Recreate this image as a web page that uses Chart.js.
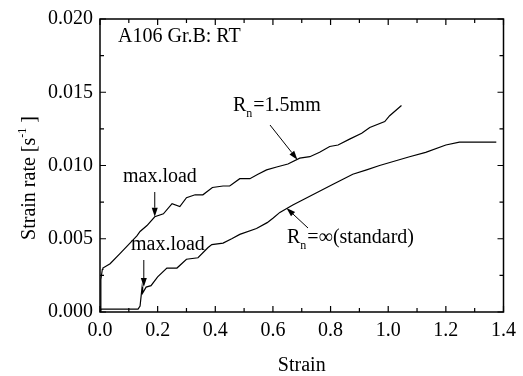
<!DOCTYPE html>
<html>
<head>
<meta charset="utf-8">
<script src="https://cdn.jsdelivr.net/npm/chart.js@4.4.0/dist/chart.umd.min.js"></script>
<style>
html, body { margin: 0; padding: 0; background: #fff; }
#contenedor { width: 523px; height: 376px; }
</style>
</head>
<body>
<div id="contenedor"><canvas id="grafica" width="523" height="376"></canvas></div>
<script>
// Curva R_n = 1.5mm
const deformR15 = [0, 0.003, 0.008, 0.01, 0.035, 0.07, 0.104, 0.128, 0.139, 0.163, 0.19, 0.22, 0.25, 0.277, 0.30, 0.33, 0.357, 0.39, 0.427, 0.45, 0.485, 0.52, 0.548, 0.578, 0.613, 0.652, 0.693, 0.728, 0.762, 0.797, 0.826, 0.866, 0.908, 0.936, 0.988, 1.005, 1.046];
const velR15 = [0, 0.0022, 0.0029, 0.0030, 0.0033, 0.0040, 0.0047, 0.0052, 0.0055, 0.0059, 0.0065, 0.0067, 0.0074, 0.0072, 0.0078, 0.0080, 0.0080, 0.0085, 0.0086, 0.0086, 0.0091, 0.0091, 0.0094, 0.0097, 0.0099, 0.0101, 0.0105, 0.0106, 0.0109, 0.0113, 0.0114, 0.0118, 0.0122, 0.0126, 0.0130, 0.0134, 0.0141];

// Curva R_n = infinito (estandar)
const deformStd = [0, 0.004, 0.013, 0.132, 0.139, 0.146, 0.148, 0.16, 0.177, 0.2, 0.232, 0.267, 0.30, 0.34, 0.375, 0.388, 0.427, 0.457, 0.485, 0.543, 0.58, 0.6, 0.624, 0.669, 0.738, 0.807, 0.877, 0.925, 0.97, 1.074, 1.13, 1.20, 1.247, 1.293, 1.375];
const velStd = [0, 0.0002, 0.0002, 0.0002, 0.0004, 0.0017, 0.0013, 0.0017, 0.0018, 0.0024, 0.0030, 0.0030, 0.0036, 0.0037, 0.0044, 0.0046, 0.0047, 0.0050, 0.0053, 0.0057, 0.0061, 0.0064, 0.0068, 0.0073, 0.0080, 0.0087, 0.0094, 0.0097, 0.0100, 0.0106, 0.0109, 0.0114, 0.0116, 0.0116, 0.0116];

// Ticks de los ejes
const ticksX = [0, 0.2, 0.4, 0.6, 0.8, 1.0, 1.2, 1.4];
const etiquetasX = ['0.0', '0.2', '0.4', '0.6', '0.8', '1.0', '1.2', '1.4'];
const menoresX = [0.1, 0.3, 0.5, 0.7, 0.9, 1.1, 1.3];
const ticksY = [0, 0.005, 0.010, 0.015, 0.020];
const etiquetasY = ['0.000', '0.005', '0.010', '0.015', '0.020'];
const menoresY = [0.0025, 0.0075, 0.0125, 0.0175];

const fuente = 'Liberation Serif, Times New Roman, serif';

function puntos(xs, ys) {
    return xs.map((x, i) => ({ x: x, y: ys[i] }));
}

// dibuja una flecha con punta rellena
function flecha(ctx, x1, y1, x2, y2) {
    const ang = Math.atan2(y2 - y1, x2 - x1);
    const largo = 9, ancho = 3;
    ctx.beginPath();
    ctx.moveTo(x1, y1);
    ctx.lineTo(x2 - largo * Math.cos(ang), y2 - largo * Math.sin(ang));
    ctx.stroke();
    ctx.beginPath();
    ctx.moveTo(x2, y2);
    ctx.lineTo(x2 - largo * Math.cos(ang) + ancho * Math.sin(ang), y2 - largo * Math.sin(ang) - ancho * Math.cos(ang));
    ctx.lineTo(x2 - largo * Math.cos(ang) - ancho * Math.sin(ang), y2 - largo * Math.sin(ang) + ancho * Math.cos(ang));
    ctx.closePath();
    ctx.fill();
}

// texto con subindice "n"
function textoR(ctx, x, y, resto) {
    ctx.font = '20px ' + fuente;
    ctx.fillText('R', x, y);
    let w = ctx.measureText('R').width;
    ctx.font = '12px ' + fuente;
    ctx.fillText('n', x + w, y + 6);
    w += ctx.measureText('n').width + 1;
    ctx.font = '20px ' + fuente;
    ctx.fillText(resto, x + w, y);
}

const marco = {
    id: 'marco',
    afterDatasetsDraw(chart) {
        const ctx = chart.ctx;
        const a = chart.chartArea;
        const sx = chart.scales.x, sy = chart.scales.y;
        ctx.save();
        ctx.strokeStyle = '#000';
        ctx.fillStyle = '#000';
        ctx.lineWidth = 1.5;
        ctx.strokeRect(a.left, a.top, a.right - a.left, a.bottom - a.top);

        ctx.lineWidth = 1.2;
        ctx.beginPath();
        const marcas = (valores, largo) => {
            valores.forEach(v => {
                const px = sx.getPixelForValue(v);
                ctx.moveTo(px, a.bottom); ctx.lineTo(px, a.bottom - largo);
                ctx.moveTo(px, a.top); ctx.lineTo(px, a.top + largo);
            });
        };
        const marcasY = (valores, largo) => {
            valores.forEach(v => {
                const py = sy.getPixelForValue(v);
                ctx.moveTo(a.left, py); ctx.lineTo(a.left + largo, py);
                ctx.moveTo(a.right, py); ctx.lineTo(a.right - largo, py);
            });
        };
        marcas(ticksX, 6);
        marcas(menoresX, 4);
        marcasY(ticksY, 6);
        marcasY(menoresY, 4);
        ctx.stroke();

        // anotaciones
        ctx.textBaseline = 'alphabetic';
        ctx.textAlign = 'left';
        ctx.font = '20px ' + fuente;
        ctx.fillText('A106 Gr.B: RT', 118, 42);
        ctx.fillText('max.load', 123, 182);
        ctx.fillText('max.load', 131, 250);
        textoR(ctx, 233, 111, '=1.5mm');
        textoR(ctx, 287, 243, '=\u221E(standard)');

        ctx.lineWidth = 1;
        flecha(ctx, sx.getPixelForValue(0.19), 192, sx.getPixelForValue(0.19), sy.getPixelForValue(0.0065));
        flecha(ctx, sx.getPixelForValue(0.152), 260, sx.getPixelForValue(0.152), sy.getPixelForValue(0.0017));
        flecha(ctx, 270, 125, sx.getPixelForValue(0.685), sy.getPixelForValue(0.0104));
        flecha(ctx, 308, 228, sx.getPixelForValue(0.647), sy.getPixelForValue(0.0071));

        // titulo eje Y con superindice
        ctx.translate(35, 178);
        ctx.rotate(-Math.PI / 2);
        ctx.font = '20px ' + fuente;
        const t1 = 'Strain rate [s';
        const w1 = ctx.measureText(t1).width;
        ctx.font = '12px ' + fuente;
        const w2 = ctx.measureText('-1').width;
        ctx.font = '20px ' + fuente;
        const w3 = ctx.measureText(' ]').width;
        let x0 = -(w1 + w2 + w3) / 2;
        ctx.fillText(t1, x0, 0);
        ctx.font = '12px ' + fuente;
        ctx.fillText('-1', x0 + w1, -9);
        ctx.font = '20px ' + fuente;
        ctx.fillText(' ]', x0 + w1 + w2, 0);
        ctx.restore();
    }
};

const ctx = document.getElementById('grafica').getContext('2d');
const grafica = new Chart(ctx, {
    type: 'line',
    data: {
        datasets: [{
            label: 'Rn=1.5mm',
            data: puntos(deformR15, velR15),
            borderColor: '#000',
            borderWidth: 1.2,
            pointRadius: 0,
            fill: false,
            tension: 0
        }, {
            label: 'Rn=inf (standard)',
            data: puntos(deformStd, velStd),
            borderColor: '#000',
            borderWidth: 1.2,
            pointRadius: 0,
            fill: false,
            tension: 0
        }]
    },
    options: {
        responsive: false,
        animation: false,
        devicePixelRatio: 1,
        layout: { padding: { left: 0, top: 16, right: 19, bottom: 0 } },
        scales: {
            x: {
                type: 'linear',
                min: 0,
                max: 1.4,
                afterBuildTicks: s => { s.ticks = ticksX.map(v => ({ value: v })); },
                afterFit: s => { s.height = 64; },
                ticks: {
                    callback: (v, i) => etiquetasX[i],
                    font: { family: fuente, size: 20 },
                    color: '#000',
                    padding: 7,
                    maxRotation: 0
                },
                grid: { display: false, drawTicks: false },
                border: { display: false },
                title: {
                    display: true,
                    text: 'Strain',
                    font: { family: fuente, size: 20, lineHeight: 1 },
                    color: '#000',
                    padding: { top: 0, bottom: 0 }
                }
            },
            y: {
                type: 'linear',
                min: 0,
                max: 0.02,
                afterBuildTicks: s => { s.ticks = ticksY.map(v => ({ value: v })); },
                afterFit: s => { s.width = 100; },
                ticks: {
                    callback: (v, i) => etiquetasY[i],
                    font: { family: fuente, size: 20 },
                    color: '#000',
                    padding: 7
                },
                grid: { display: false, drawTicks: false },
                border: { display: false }
            }
        },
        plugins: {
            legend: { display: false },
            tooltip: { enabled: false }
        }
    },
    plugins: [marco]
});
</script>
</body>
</html>
